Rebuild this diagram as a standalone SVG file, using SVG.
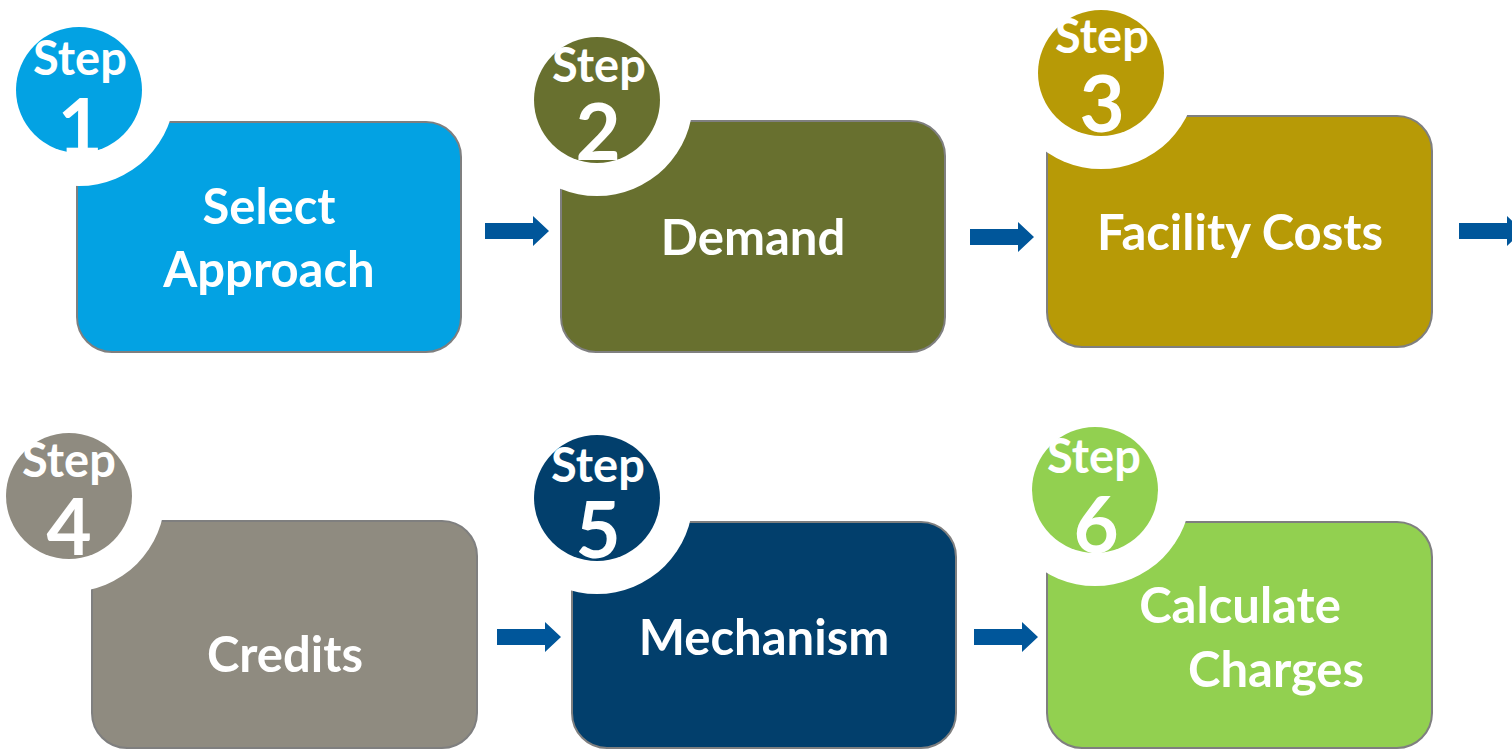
<svg xmlns="http://www.w3.org/2000/svg" width="1512" height="750" viewBox="0 0 1512 750">
  <style>
    .box { stroke: #7f7f7f; stroke-width: 2; }
    .ring { fill: #ffffff; }
    .label { font-family: Lato, "Open Sans", "Liberation Sans", sans-serif; font-weight: bold; font-size: 49px; fill: #ffffff; text-anchor: middle; }
    .step { font-family: Lato, "Open Sans", "Liberation Sans", sans-serif; font-weight: bold; font-size: 47px; fill: #ffffff; text-anchor: middle; }
    .num { font-family: Lato, "Open Sans", "Liberation Sans", sans-serif; font-weight: bold; font-size: 78px; fill: #ffffff; text-anchor: middle; }
    .arrow { fill: #00569a; }
  </style>
  <defs>
    <path id="arrowShape" d="M0,-8 H48 V-15 L64,0 L48,15 V8 H0 Z"/>
  </defs>
  <rect width="1512" height="750" fill="#ffffff"/>

  <g id="connectors">
    <use href="#arrowShape" class="arrow" transform="translate(485,231)"/>
    <use href="#arrowShape" class="arrow" transform="translate(970,237)"/>
    <use href="#arrowShape" class="arrow" transform="translate(1459,231)"/>
    <use href="#arrowShape" class="arrow" transform="translate(497,637)"/>
    <use href="#arrowShape" class="arrow" transform="translate(974,637)"/>
  </g>

  <g id="step1">
    <rect class="box" x="77" y="122" width="384" height="230" rx="35" fill="#03a2e3"/>
    <circle class="ring" cx="79" cy="90" r="96"/>
    <circle cx="79" cy="90" r="63" fill="#03a2e3"/>
    <text class="step" x="80" y="75">Step</text>
    <text class="num" x="80" y="155">1</text>
    <text class="label" x="269" y="224">Select</text>
    <text class="label" x="269" y="287">Approach</text>
  </g>

  <g id="step2">
    <rect class="box" x="561" y="121" width="384" height="231" rx="35" fill="#68702f"/>
    <circle class="ring" cx="597" cy="100" r="96"/>
    <circle cx="597" cy="100" r="63" fill="#68702f"/>
    <text class="step" x="599" y="82">Step</text>
    <text class="num" x="598" y="160">2</text>
    <text class="label" x="753" y="255">Demand</text>
  </g>

  <g id="step3">
    <rect class="box" x="1047" y="116" width="385" height="231" rx="35" fill="#b79a06"/>
    <circle class="ring" cx="1101" cy="73" r="96"/>
    <circle cx="1101" cy="73" r="63" fill="#b79a06"/>
    <text class="step" x="1102" y="53">Step</text>
    <text class="num" x="1102" y="132">3</text>
    <text class="label" x="1240" y="250">Facility Costs</text>
  </g>

  <g id="step4">
    <rect class="box" x="92" y="521" width="385" height="227" rx="35" fill="#8f8b80"/>
    <circle class="ring" cx="69" cy="496" r="96"/>
    <circle cx="69" cy="496" r="63" fill="#8f8b80"/>
    <text class="step" x="69" y="477">Step</text>
    <text class="num" x="69" y="555">4</text>
    <text class="label" x="285" y="672">Credits</text>
  </g>

  <g id="step5">
    <rect class="box" x="572" y="522" width="384" height="226" rx="35" fill="#023f6c"/>
    <circle class="ring" cx="597" cy="498" r="96"/>
    <circle cx="597" cy="498" r="63" fill="#023f6c"/>
    <text class="step" x="598" y="482">Step</text>
    <text class="num" x="598" y="558">5</text>
    <text class="label" x="764" y="655">Mechanism</text>
  </g>

  <g id="step6">
    <rect class="box" x="1047" y="522" width="385" height="226" rx="35" fill="#92d050"/>
    <circle class="ring" cx="1095" cy="490" r="96"/>
    <circle cx="1095" cy="490" r="63" fill="#92d050"/>
    <text class="step" x="1094" y="473">Step</text>
    <text class="num" x="1096" y="553">6</text>
    <text class="label" x="1240" y="623">Calculate</text>
    <text class="label" x="1276" y="687">Charges</text>
  </g>
</svg>
